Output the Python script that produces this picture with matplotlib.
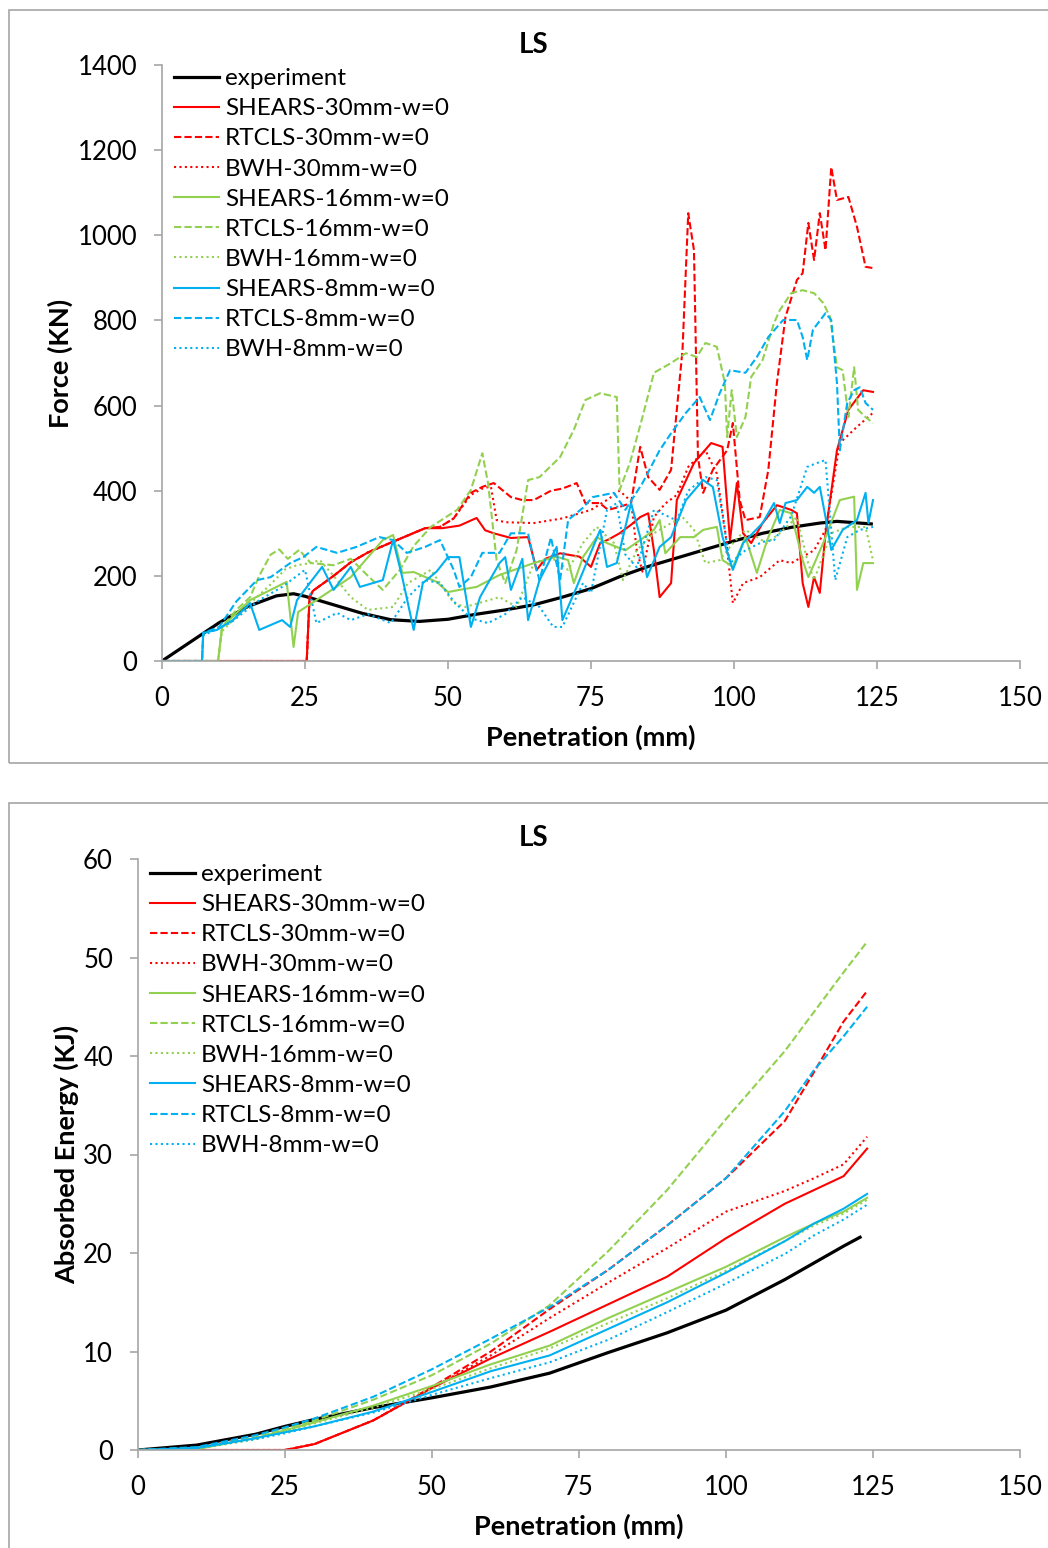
import matplotlib.pyplot as plt
from matplotlib.patches import Rectangle

# ---- force vs penetration (top) ----
exp_f = [(0, 0), (5, 45), (10, 90), (15, 128), (20, 153), (23, 158), (25, 152), (30, 132), (35, 112),
         (40, 97), (45, 93), (50, 98), (55, 110), (60, 120), (65, 132), (70, 150), (75, 170), (80, 198),
         (85, 222), (90, 242), (95, 262), (100, 282), (105, 300), (110, 314), (115, 324), (118, 328),
         (122, 324), (124, 322)]

s30_f = [(0, 0), (25.3, 0), (25.8, 150), (26.4, 165), (30, 200), (33, 232), (36, 255), (40, 278), (43, 295),
         (46, 312), (49, 312), (52, 318), (55, 336), (56.5, 307), (58, 300), (61, 289), (64, 291), (65.5, 214),
         (67, 240), (69.6, 253), (73, 245), (75, 221), (76.6, 277), (78, 285), (80, 300), (82, 320), (83.6, 338),
         (85, 347), (86, 260), (87, 150), (89, 183), (90, 378), (93, 465), (96, 512), (98, 503), (99.3, 284),
         (100.5, 418), (101.6, 300), (103, 277), (105, 324), (107.5, 366), (110, 355), (111, 347), (112, 183),
         (113, 127), (114, 197), (115, 160), (116, 300), (118, 495), (120, 590), (122.6, 636), (124.3, 632)]

r30_f = [(0, 0), (25.3, 0), (25.8, 150), (26.4, 165), (30, 200), (33, 232), (36, 255), (40, 278), (43, 295),
         (46, 312), (48.6, 315), (51, 335), (54, 395), (56, 409), (58, 418), (61, 385), (63, 378), (65, 378),
         (68, 400), (70, 405), (72.5, 418), (74, 371), (76.5, 371), (78, 355), (80, 362), (82, 371),
         (83.6, 503), (85, 432), (87, 402), (89, 449), (91, 731), (92, 1052), (93, 965), (93.7, 480),
         (94.6, 395), (96.3, 449), (98.8, 495), (99.8, 559), (101, 378), (102, 331), (104.5, 338), (106, 449),
         (107.5, 653), (109, 808), (111, 895), (112, 911), (113, 1029), (114, 942), (115, 1052), (116, 965),
         (117, 1160), (118, 1083), (120, 1090), (121.5, 1020), (123, 926), (124.3, 923)]

b30_f = [(0, 0), (25.3, 0), (25.8, 150), (26.4, 165), (30, 200), (33, 232), (36, 255), (40, 278), (43, 295),
         (46, 312), (48.6, 315), (51, 335), (54, 390), (56, 405), (57.5, 410), (58.5, 331), (60, 326), (65, 324),
         (70, 335), (75, 355), (78, 380), (80, 400), (82, 375), (83, 260), (84, 210), (86, 338), (88, 370),
         (90, 390), (92, 456), (95, 495), (97, 440), (98.5, 300), (99.8, 136), (101.6, 183), (104.5, 197),
         (108, 237), (110, 230), (114, 260), (116, 308), (118.5, 512), (121.5, 550), (124.3, 583)]

s16_f = [(0, 0), (9.8, 0), (10.5, 80), (15.4, 143), (21.8, 186), (23, 33), (23.8, 115), (27, 143), (33, 197),
         (38.6, 284), (40.4, 296), (42, 207), (44, 209), (48, 186), (50, 162), (52, 167), (55, 174), (59, 202),
         (65, 230), (69, 245), (71, 237), (72, 183), (73.6, 244), (76, 291), (77.8, 277), (81, 260), (83.6, 284),
         (86, 308), (87, 331), (88, 253), (90.6, 291), (93, 291), (94.6, 308), (97, 315), (98, 237), (99.8, 221),
         (102, 291), (104, 207), (105.8, 284), (108, 355), (110, 347), (112, 237), (113, 197), (115.6, 277),
         (118.5, 378), (121, 386), (121.5, 167), (122.6, 230), (124.3, 230)]

r16_f = [(0, 0), (9.8, 0), (10.5, 80), (13, 120), (15.4, 150), (17, 200), (19, 250), (20.5, 262), (22, 240),
         (24, 261), (26, 230), (30, 225), (33, 240), (36, 200), (38.6, 167), (41.6, 214), (44, 270), (47, 315),
         (51.6, 355), (54, 402), (56, 488), (57, 418), (58.5, 237), (60, 183), (62, 261), (64, 425), (66, 432),
         (69.6, 479), (72, 543), (74, 613), (76.6, 629), (79.5, 620), (80, 402), (81.8, 465), (84, 573),
         (86, 677), (89, 700), (91.6, 723), (93.5, 714), (95, 747), (97, 738), (98.4, 653), (98.8, 526),
         (99.6, 636), (100.5, 526), (102, 573), (103, 667), (105, 707), (107, 794), (108, 824), (110, 864),
         (112, 871), (114, 864), (115.6, 841), (116.8, 808), (118, 690), (119, 683), (120, 573), (121, 690),
         (121.7, 590), (123, 573), (124.3, 559)]

b16_f = [(0, 0), (9.8, 0), (10.5, 70), (15, 130), (19, 180), (21.5, 215), (23.6, 225), (26, 230), (27.6, 237),
         (30, 200), (33, 150), (36, 120), (40.4, 127), (43, 183), (47, 214), (51, 136), (53, 127), (59, 150),
         (62, 127), (65, 230), (68, 244), (71, 214), (73.6, 277), (76, 315), (79, 277), (80.6, 190), (83, 260),
         (86, 300), (89, 324), (91, 338), (93, 308), (95, 230), (97.5, 237), (100, 280), (102, 308), (105.7, 277),
         (108, 300), (111, 338), (112.8, 237), (114, 190), (117, 300), (119.8, 315), (123, 315), (124.3, 237)]

s8_f = [(0, 0), (7, 0), (7.2, 66), (9.6, 73), (12.4, 96), (15.4, 136), (17, 73), (21, 96), (22.4, 80),
        (23.6, 143), (26, 186), (28, 221), (30, 167), (33, 221), (34.6, 174), (38.6, 190), (40.4, 284), (42, 197),
        (44, 73), (45.6, 183), (48, 210), (50, 244), (52, 244), (54, 80), (55.6, 150), (59, 230), (60, 244),
        (61, 167), (63, 240), (64, 96), (66, 190), (69, 268), (70, 96), (72.5, 174), (76.6, 308), (77.8, 221),
        (79.5, 230), (82, 371), (83.6, 291), (84.8, 197), (87, 268), (89, 291), (91.6, 378), (94.6, 425),
        (96.3, 409), (98, 291), (99.8, 214), (101.6, 277), (105, 324), (107, 371), (108, 324), (109, 371),
        (111, 378), (112.8, 409), (114, 395), (115, 409), (116, 338), (117, 261), (119, 308), (121.5, 331),
        (123, 395), (123.5, 324), (124.3, 378)]

r8_f = [(0, 0), (7, 0), (7.2, 66), (10, 80), (13, 140), (16.6, 190), (19, 197), (22.4, 230), (24.7, 244),
        (27, 268), (30.6, 254), (34, 268), (38, 291), (40.4, 284), (42.8, 254), (46, 268), (48.6, 284), (51, 214),
        (52, 174), (54, 197), (56, 254), (59, 254), (61, 300), (64, 300), (65, 237), (66, 190), (68, 290),
        (69.6, 190), (71, 331), (73.6, 360), (75.3, 385), (79, 395), (81, 355), (84, 418), (87, 495), (89, 535),
        (91.6, 583), (94, 620), (95.8, 566), (97.5, 629), (99.3, 683), (102, 677), (104, 714), (106, 761),
        (108.6, 801), (111, 801), (112, 761), (112.8, 707), (113.8, 778), (116, 817), (117, 801), (118, 653),
        (118.5, 495), (119.8, 606), (121, 636), (122, 643), (123, 606), (124.3, 590)]

b8_f = [(0, 0), (7, 0), (7.2, 60), (12, 90), (17, 143), (21, 174), (25, 214), (27, 89), (30.6, 113), (33, 96),
        (36, 110), (40, 89), (43, 150), (46, 190), (48.6, 183), (51, 140), (54, 100), (57, 89), (60, 110),
        (63, 150), (66, 127), (68.4, 80), (70, 80), (73.6, 183), (75, 160), (77.8, 355), (79.5, 371), (81, 250),
        (83, 220), (86, 355), (90, 330), (92, 400), (95, 432), (97, 425), (99.3, 230), (102, 260), (105, 280),
        (107, 284), (110, 340), (112.8, 456), (114.5, 465), (116, 472), (117.7, 190), (119.8, 291), (122, 308),
        (124.3, 315)]

# ---- absorbed energy vs penetration (bottom) ----
pen = [0, 10, 20, 25, 30, 40, 50, 60, 70, 80, 90, 100, 110, 115, 120, 124]
exp_pen = [0, 10, 20, 25, 30, 40, 50, 60, 70, 80, 90, 100, 110, 115, 120, 122.8]
exp_e = [0, 0.5, 1.6, 2.4, 3.1, 4.3, 5.3, 6.4, 7.8, 9.9, 11.9, 14.2, 17.3, 19.0, 20.7, 21.6]
s30_e = [0, 0, 0, 0, 0.6, 3.0, 6.3, 9.3, 12.0, 14.8, 17.6, 21.5, 25.0, 26.4, 27.8, 30.6]
r30_e = [0, 0, 0, 0, 0.6, 3.0, 6.4, 10.0, 14.3, 18.3, 22.8, 27.6, 33.4, 38.4, 43.5, 46.6]
b30_e = [0, 0, 0, 0, 0.6, 3.0, 6.3, 9.6, 13.4, 17.0, 20.5, 24.2, 26.3, 27.6, 29.0, 31.8]
s16_e = [0, 0.1, 1.2, 2.0, 2.8, 4.5, 6.5, 8.7, 10.6, 13.4, 16.0, 18.6, 21.6, 23.0, 24.2, 25.6]
r16_e = [0, 0.2, 1.3, 2.1, 3.0, 5.1, 7.6, 10.8, 14.7, 20.2, 26.4, 33.6, 40.5, 44.5, 48.5, 51.6]
b16_e = [0, 0.1, 1.1, 1.9, 2.7, 4.3, 6.2, 8.3, 10.3, 12.9, 15.4, 18.2, 21.2, 22.8, 24.0, 25.4]
s8_e = [0, 0.2, 1.2, 1.8, 2.4, 3.9, 5.9, 8.0, 9.6, 12.3, 15.0, 18.0, 21.2, 23.0, 24.5, 26.0]
r8_e = [0, 0.3, 1.5, 2.3, 3.2, 5.4, 8.2, 11.3, 14.5, 18.3, 22.8, 27.6, 34.4, 38.6, 42.0, 45.0]
b8_e = [0, 0.2, 1.1, 1.7, 2.4, 3.8, 5.6, 7.3, 8.9, 11.2, 14.0, 16.9, 19.9, 21.8, 23.4, 24.9]

labels = ["experiment", "SHEARS-30mm-w=0", "RTCLS-30mm-w=0", "BWH-30mm-w=0",
          "SHEARS-16mm-w=0", "RTCLS-16mm-w=0", "BWH-16mm-w=0",
          "SHEARS-8mm-w=0", "RTCLS-8mm-w=0", "BWH-8mm-w=0"]

RED, GREEN, BLUE = "#FF0000", "#92D050", "#00B0F0"
DASH = (0, (3.5, 1.5))
DOT = (0, (1, 1.6))
styles = [("black", "-", 2.3),
          (RED, "-", 1.5), (RED, DASH, 1.5), (RED, DOT, 1.5),
          (GREEN, "-", 1.5), (GREEN, DASH, 1.5), (GREEN, DOT, 1.5),
          (BLUE, "-", 1.5), (BLUE, DASH, 1.5), (BLUE, DOT, 1.5)]

plt.rcParams['font.family'] = ['Lato', 'DejaVu Sans']
GREY = "#A6A6A6"

fig = plt.figure(figsize=(10.48, 15.48), dpi=100)

# chart-area frames
for y0, y1 in [(10, 763), (803, 1560)]:
    fig.patches.append(Rectangle((9 / 1048, 1 - y1 / 1548), 1.1, (y1 - y0) / 1548,
                                 transform=fig.transFigure, fill=False, edgecolor=GREY, lw=1.2))


def style_axes(ax, ymax, ystep, ylabel, title_y, leg_top):
    for side in ["top", "right"]:
        ax.spines[side].set_visible(False)
    for side in ["left", "bottom"]:
        ax.spines[side].set_color(GREY)
        ax.spines[side].set_linewidth(1.2)
    ax.set_xlim(0, 150)
    ax.set_ylim(0, ymax)
    ax.set_xticks(range(0, 151, 25))
    ax.set_yticks(range(0, ymax + 1, ystep))
    ax.tick_params(direction="out", length=6, width=1.2, color=GREY, labelsize=18.5, pad=12)
    fig.text(534 / 1048, 1 - title_y / 1548, "LS", fontsize=20, fontweight="bold",
             ha="center", va="center")
    ax.set_xlabel("Penetration (mm)", fontsize=19.5, fontweight="bold", labelpad=10)
    ax.set_ylabel(ylabel, fontsize=19.5, fontweight="bold", labelpad=3)
    ax.legend(loc="upper left", bbox_to_anchor=(0.0, leg_top), frameon=False, fontsize=17.5,
              handlelength=1.85, handletextpad=0.25, labelspacing=0.375, borderaxespad=0.3,
              borderpad=0.2)


ax1 = fig.add_axes([162 / 1048, 1 - 661 / 1548, 858 / 1048, 596 / 1548])
force_series = [exp_f, s30_f, r30_f, b30_f, s16_f, r16_f, b16_f, s8_f, r8_f, b8_f]
for pts, (c, ls, lw), lab in zip(force_series, styles, labels):
    xs = [p[0] for p in pts]
    ys = [p[1] for p in pts]
    ax1.plot(xs, ys, color=c, linestyle=ls, linewidth=lw, label=lab)
style_axes(ax1, 1400, 200, "Force (KN)", 45, 1.015)

ax2 = fig.add_axes([138 / 1048, 1 - 1450 / 1548, 882 / 1048, 591 / 1548])
energy_series = [exp_e, s30_e, r30_e, b30_e, s16_e, r16_e, b16_e, s8_e, r8_e, b8_e]
for i, (vals, (c, ls, lw), lab) in enumerate(zip(energy_series, styles, labels)):
    xs = exp_pen if i == 0 else pen
    ax2.plot(xs, vals, color=c, linestyle=ls, linewidth=lw, label=lab)
style_axes(ax2, 60, 10, "Absorbed Energy (KJ)", 838, 1.012)

fig.savefig("out.png", dpi=100)
